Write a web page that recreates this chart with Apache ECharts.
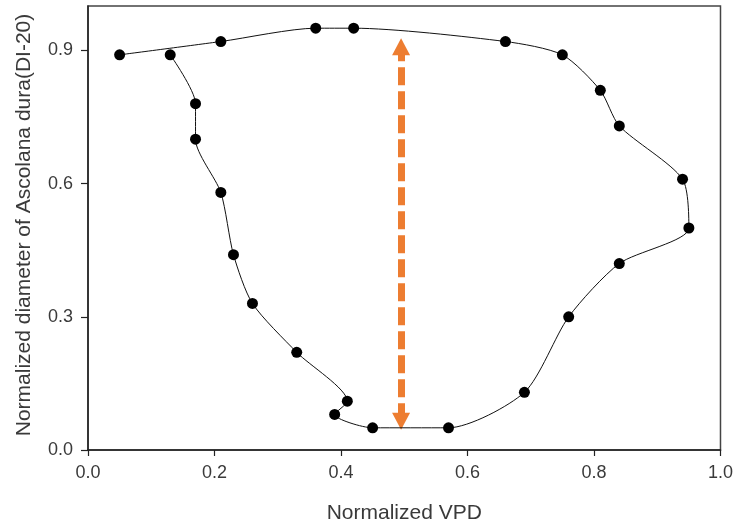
<!DOCTYPE html>
<html>
<head>
<meta charset="utf-8">
<script src="https://cdn.jsdelivr.net/npm/echarts@6/dist/echarts.min.js"></script>
<style>
  html, body { margin: 0; padding: 0; background: #fff; }
  #chart { width: 736px; height: 529px; }
</style>
</head>
<body>
<div id="chart"></div>
<script>
// Hysteresis loop: normalized VPD vs normalized trunk diameter
const vpd = [0.05, 0.21, 0.36, 0.42, 0.66, 0.75, 0.81, 0.84, 0.94, 0.95, 0.84, 0.76,
             0.69, 0.57, 0.45, 0.39, 0.41, 0.33, 0.26, 0.23, 0.21, 0.17, 0.17, 0.13];
const diameter = [0.89, 0.92, 0.95, 0.95, 0.92, 0.89, 0.81, 0.73, 0.61, 0.50, 0.42, 0.30,
                  0.13, 0.05, 0.05, 0.08, 0.11, 0.22, 0.33, 0.44, 0.58, 0.70, 0.78, 0.89];

// Tick values for both axes
const xTicks = [0.0, 0.2, 0.4, 0.6, 0.8, 1.0];
const yTicks = [0.0, 0.3, 0.6, 0.9];

// Double-headed arrow showing the loop width (shaft ends; heads extend past them)
const arrowX = 0.495;
const arrowY = [0.065, 0.908];

const loopData = vpd.map((x, i) => [x, diameter[i]]);

const chart = echarts.init(document.getElementById('chart'), null, { renderer: 'canvas' });

const fontFamily = 'Liberation Sans, Arial, sans-serif';
const labelFont = { color: '#3a3a3a', fontFamily: fontFamily, fontSize: 18 };
const nameFont = { color: '#3a3a3a', fontFamily: fontFamily, fontSize: 21 };

chart.setOption({
  animation: false,
  backgroundColor: '#ffffff',
  grid: {
    left: 88, right: 14, top: 6, bottom: 78,
    show: true,
    borderColor: '#444',
    borderWidth: 1.5
  },
  xAxis: {
    type: 'value',
    min: 0, max: 1.0, interval: 0.2,
    name: 'Normalized VPD',
    nameLocation: 'middle',
    nameGap: 53,
    nameTextStyle: nameFont,
    axisLine: { show: true, lineStyle: { color: '#222', width: 1.5 } },
    axisTick: { show: true, length: 6, inside: false, customValues: xTicks, lineStyle: { color: '#222', width: 1.2 } },
    axisLabel: Object.assign({ margin: 14, customValues: xTicks, formatter: v => v.toFixed(1) }, labelFont),
    splitLine: { show: false }
  },
  yAxis: {
    type: 'value',
    min: 0, max: 1.0, interval: 0.3,
    name: 'Normalized diameter of Ascolana dura(DI-20)',
    nameLocation: 'middle',
    nameGap: 53,
    nameTextStyle: Object.assign({ padding: [0, 0, 0, 6] }, nameFont),
    axisLine: { show: true, lineStyle: { color: '#222', width: 1.5 } },
    axisTick: { show: true, length: 7, inside: false, customValues: yTicks, lineStyle: { color: '#222', width: 1.2 } },
    axisLabel: Object.assign({ margin: 15, customValues: yTicks, formatter: v => v.toFixed(1) }, labelFont),
    splitLine: { show: false }
  },
  series: [
    {
      type: 'line',
      data: loopData,
      smooth: 0.25,
      symbol: 'circle',
      symbolSize: 11,
      itemStyle: { color: '#000' },
      lineStyle: { color: '#111', width: 1 },
      silent: true,
      z: 3,
      markLine: {
        silent: true,
        symbol: ['triangle', 'triangle'],
        symbolSize: [18, 17],
        label: { show: false },
        lineStyle: { color: '#ED7D31', width: 7, type: [18, 6], opacity: 1 },
        itemStyle: { color: '#ED7D31' },
        data: [[
          { coord: [arrowX, arrowY[0]] },
          { coord: [arrowX, arrowY[1]] }
        ]],
        z: 2
      }
    }
  ]
});
</script>
</body>
</html>
